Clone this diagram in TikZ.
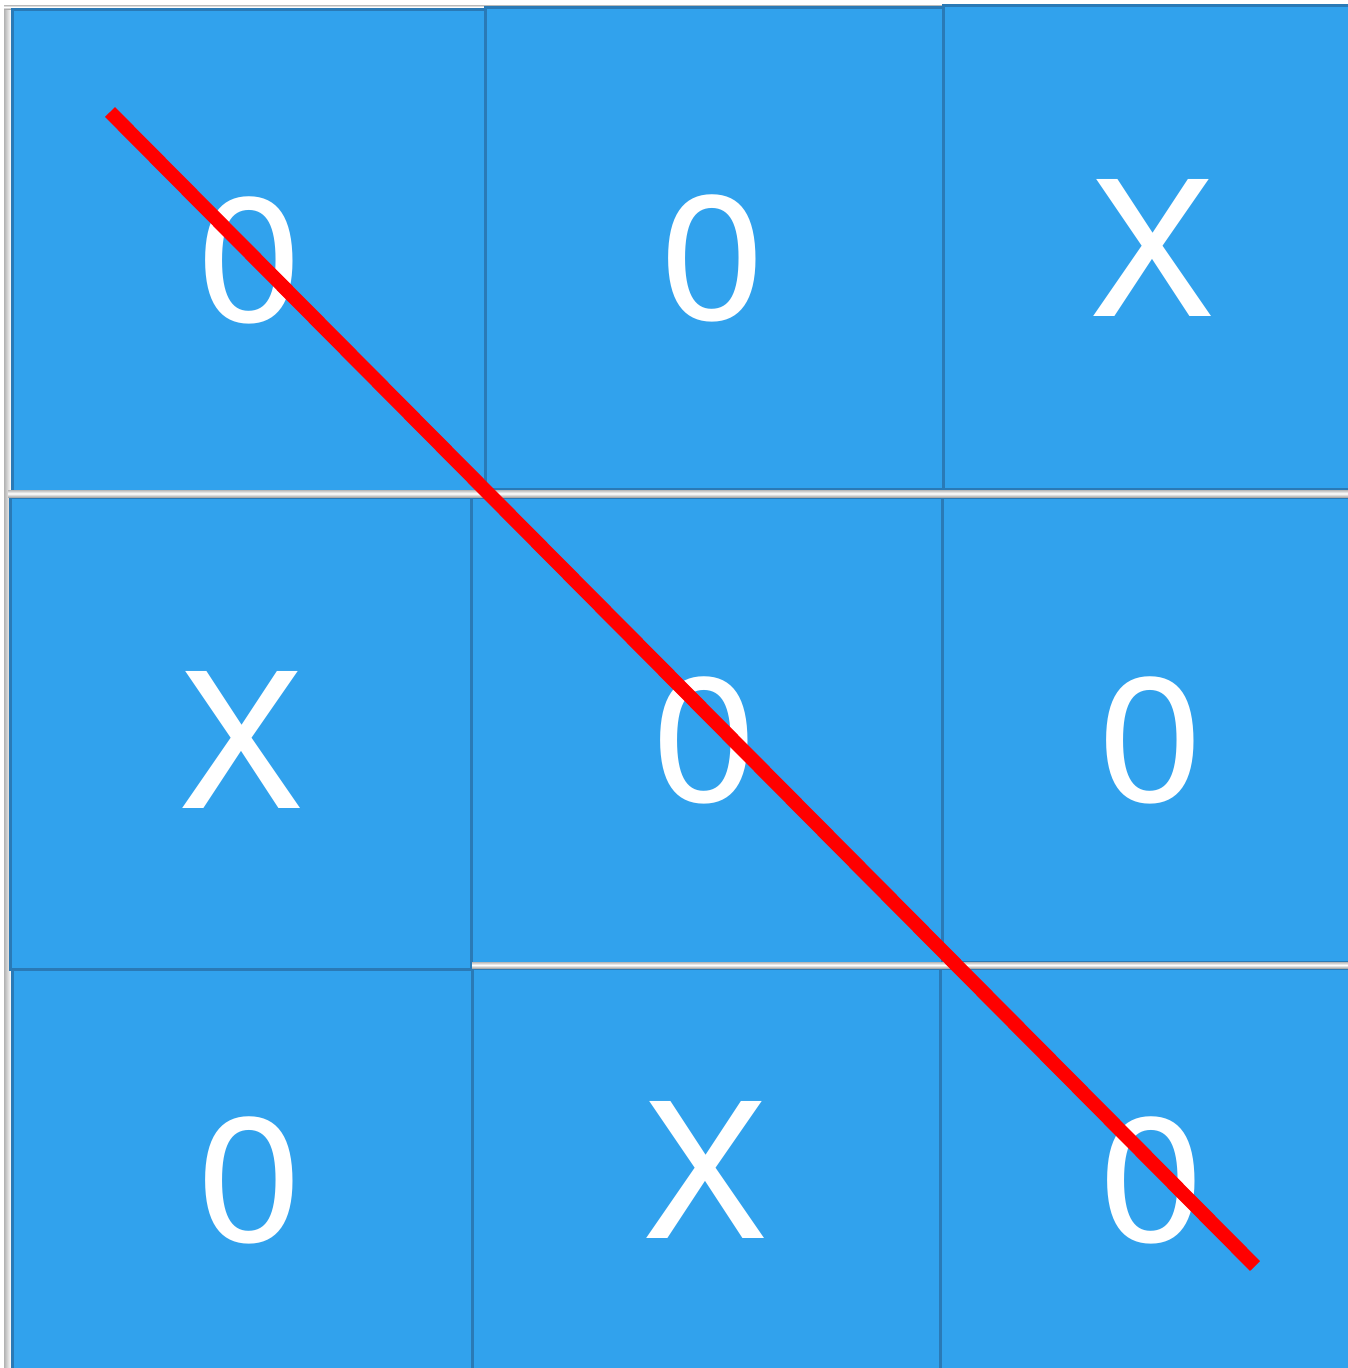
\documentclass[tikz,border=0pt]{standalone}
\usepackage{graphicx}
\usepackage{fontspec}
\setmainfont{TeX Gyre Heros}
\definecolor{cellfill}{RGB}{49,162,237}
\definecolor{celledge}{RGB}{42,122,182}
\definecolor{winline}{RGB}{255,0,0}
\newcommand{\ozero}{\scalebox{1.07}[1]{0}}
\begin{document}
\begin{tikzpicture}[x=1pt,y=-1pt,
  cell/.style={draw=celledge,fill=cellfill,line width=3pt,rectangle,inner sep=0pt,outer sep=0pt},
  glyphx/.style={text=white,inner sep=0pt,font=\fontsize{188}{188}\selectfont},
  glypho/.style={text=white,inner sep=0pt,font=\fontsize{176}{176}\selectfont},
  strip/.style={top color=gray!55,bottom color=gray!65,middle color=white}]
\useasboundingbox[fill=white] (0,0) rectangle (1348,1368);
% left gray edge
\shade[left color=gray!60,right color=white] (4,7) rectangle (11,1368);
\shade[strip] (4,5) rectangle (1348,9);
% cells
\node[cell,minimum width=473pt,minimum height=482pt] (c1) at (248.5,250) {};
\node[cell,minimum width=458pt,minimum height=482pt] (c2) at (714,248) {};
\node[cell,minimum width=409pt,minimum height=484pt] (c3) at (1147.5,247) {};
\node[cell,minimum width=461pt,minimum height=472pt] (c4) at (240.5,733) {};
\node[cell,minimum width=471pt,minimum height=466pt] (c5) at (706.5,730) {};
\node[cell,minimum width=410pt,minimum height=465pt] (c6) at (1147,729.5) {};
\node[cell,minimum width=460pt,minimum height=404pt] (c7) at (242,1171) {};
\node[cell,minimum width=468pt,minimum height=404pt] (c8) at (706,1170) {};
\node[cell,minimum width=412pt,minimum height=404pt] (c9) at (1146,1170) {};
% separator strips
\shade[strip] (8,490) rectangle (1348,497);
\shade[strip] (472,962) rectangle (1348,968);
% marks
\node[glypho] (t1) at (250,260) {\ozero};
\node[glypho] (t2) at (713,258) {\ozero};
\node[glyphx] (t3) at (1152,248) {X};
\node[glyphx] (t4) at (241,740) {X};
\node[glypho] (t5) at (705,740) {\ozero};
\node[glypho] (t6) at (1151,740) {\ozero};
\node[glypho] (t7) at (250,1180) {\ozero};
\node[glyphx] (t8) at (705,1170) {X};
\node[glypho] (t9) at (1152,1180) {\ozero};
% winning line
\coordinate (ws) at (110,112);
\coordinate (we) at (1255,1266);
\draw[winline,line width=14pt] (ws) -- (we);
\end{tikzpicture}
\end{document}
